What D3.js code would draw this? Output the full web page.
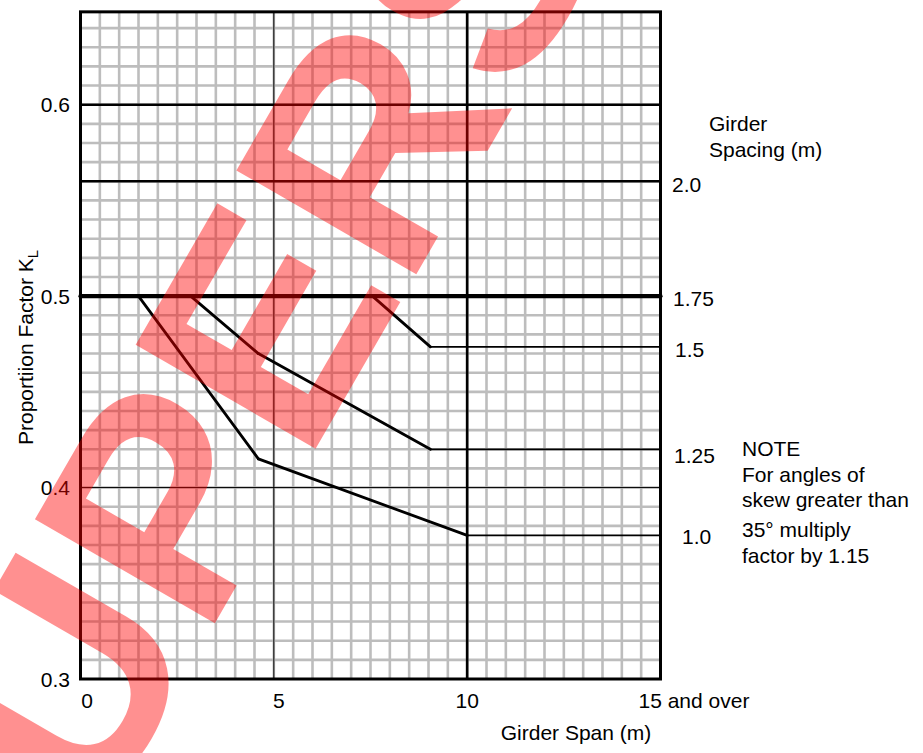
<!DOCTYPE html>
<html>
<head>
<meta charset="utf-8">
<script src="https://cdn.jsdelivr.net/npm/d3@7"></script>
<style>
	body { margin: 0; background: #fff; }
	text { font-family: 'Liberation Sans', Arial, sans-serif; fill: #000; }
</style>
</head>
<body>
<div id="chart"></div>
<script>
// values
const spacingLabels = [ '1.0', '1.25', '1.5', '1.75', '2.0' ];
const curve10 = [ [ 1.5, 0.5 ], [ 4.6, 0.415 ], [ 10, 0.375 ], [ 15, 0.375 ] ];
const curve125 = [ [ 2.85, 0.5 ], [ 4.6, 0.47 ], [ 9.05, 0.42 ], [ 15, 0.42 ] ];
const curve15 = [ [ 7.55, 0.5 ], [ 9.05, 0.4735 ], [ 15, 0.4735 ] ];
const curve175 = [ [ 0, 0.5 ], [ 15, 0.5 ] ];
const curve20 = [ [ 0, 0.56 ], [ 15, 0.56 ] ];
const curves = [ curve10, curve125, curve15, curve175, curve20 ];

const xDomain = [ 0, 15 ];
const yDomain = [ 0.3, 0.6485 ];
const xTicks = [ 0, 5, 10, 15 ];
const xTickLabels = [ '0', '5', '10', '15 and over' ];
const yTicks = [ 0.3, 0.4, 0.5, 0.6 ];
const xMajor = [ 5, 10 ];
const yMajor = [ 0.4, 0.6 ];
const noteLines = [ 'NOTE', 'For angles of', 'skew greater than', '35° multiply', 'factor by 1.15' ];

// layout
const width = 923;
const height = 753;
const fontSize = '21px';
const svg = d3.select('#chart').append('svg').attr('width', width).attr('height', height);
svg.append('rect').attr('width', width).attr('height', height).attr('fill', '#fff');

const x = d3.scaleLinear().domain(xDomain).range([ 80.5, 660.5 ]);
const y = d3.scaleLinear().domain([ 0.3, 0.6 ]).range([ 679, 104.7 ]);

// fine grid, every 0.5 m and every 0.01
const gridX = d3.range(1, 30).map((i) => i * 0.5);
const gridY = d3.range(31, 65).map((i) => i / 100).filter((v) => v < yDomain[1] - 0.001);

const grid = svg.append('g').attr('stroke', '#bdbdbd').attr('stroke-width', 2.6);
grid
	.selectAll('.gx')
	.data(gridX)
	.enter()
	.append('line')
	.attr('x1', (d) => x(d))
	.attr('x2', (d) => x(d))
	.attr('y1', y(yDomain[1]))
	.attr('y2', y(yDomain[0]));
grid
	.selectAll('.gy')
	.data(gridY)
	.enter()
	.append('line')
	.attr('x1', x(0))
	.attr('x2', x(15))
	.attr('y1', (d) => y(d))
	.attr('y2', (d) => y(d));

// black reference lines
const majorWidthX = { 5: 1, 10: 2.6 };
const majorWidthY = { 0.4: 1, 0.6: 2.6 };
svg
	.selectAll('.mx')
	.data(xMajor)
	.enter()
	.append('line')
	.attr('stroke', '#000')
	.attr('stroke-width', (d) => majorWidthX[d])
	.attr('x1', (d) => x(d))
	.attr('x2', (d) => x(d))
	.attr('y1', y(yDomain[1]))
	.attr('y2', y(yDomain[0]));
svg
	.selectAll('.my')
	.data(yMajor)
	.enter()
	.append('line')
	.attr('stroke', '#000')
	.attr('stroke-width', (d) => majorWidthY[d])
	.attr('x1', x(0))
	.attr('x2', x(15))
	.attr('y1', (d) => y(d))
	.attr('y2', (d) => y(d));

// curves, drawn segment by segment: sloped parts heavier than flat tails
curves.forEach(function(c, ci) {
	const segs = d3.pairs(c);
	svg
		.append('g')
		.selectAll('line')
		.data(segs)
		.enter()
		.append('line')
		.attr('stroke', '#000')
		.attr('stroke-linecap', 'round')
		.attr('stroke-width', function(s) {
			if (ci === 3) return 4.2;
			if (ci === 4) return 2.6;
			return s[0][1] === s[1][1] ? 1.8 : 2.8;
		})
		.attr('x1', (s) => x(s[0][0]))
		.attr('y1', (s) => y(s[0][1]))
		.attr('x2', (s) => x(s[1][0]))
		.attr('y2', (s) => y(s[1][1]));
});

// frame
svg
	.append('rect')
	.attr('x', x(0))
	.attr('y', y(yDomain[1]))
	.attr('width', x(15) - x(0))
	.attr('height', y(yDomain[0]) - y(yDomain[1]))
	.attr('fill', 'none')
	.attr('stroke', '#000')
	.attr('stroke-width', 3);

// tick labels
svg
	.selectAll('.yt')
	.data(yTicks)
	.enter()
	.append('text')
	.attr('x', 70)
	.attr('y', (d) => y(d) + 7.5)
	.attr('text-anchor', 'end')
	.style('font-size', fontSize)
	.text((d) => d3.format('.1f')(d));

const xTickNudge = [ 6.5, 5, 0, -22 ];
svg
	.selectAll('.xt')
	.data(xTicks)
	.enter()
	.append('text')
	.attr('x', (d, i) => x(d) + xTickNudge[i])
	.attr('y', 708)
	.attr('text-anchor', (d, i) => (i === xTicks.length - 1 ? 'start' : 'middle'))
	.style('font-size', fontSize)
	.text((d, i) => xTickLabels[i]);

svg
	.append('text')
	.attr('x', 576)
	.attr('y', 740)
	.attr('text-anchor', 'middle')
	.style('font-size', fontSize)
	.text('Girder Span (m)');

// y axis title with subscript
const yTitle = svg
	.append('text')
	.attr('transform', 'translate(33,445) rotate(-90)')
	.style('font-size', fontSize);
yTitle.append('tspan').text('Proportiion Factor K');
yTitle.append('tspan').attr('dy', 5).style('font-size', '15px').text('L');

// girder spacing labels at the right end of each curve
const labelNudge = [ [ 9, 9 ], [ 1, 14 ], [ 2, 10 ], [ 0, 10 ], [ -1, 11 ] ];
svg
	.selectAll('.sl')
	.data(curves)
	.enter()
	.append('text')
	.attr('x', (c, i) => 673 + labelNudge[i][0])
	.attr('y', (c, i) => y(c[c.length - 1][1]) + labelNudge[i][1])
	.style('font-size', fontSize)
	.text((c, i) => spacingLabels[i]);

svg.append('text').attr('x', 709).attr('y', 131).style('font-size', fontSize).text('Girder');
svg.append('text').attr('x', 709).attr('y', 157).style('font-size', fontSize).text('Spacing (m)');

const noteY = [ 456, 482, 507, 537, 563 ];
svg
	.selectAll('.note')
	.data(noteLines)
	.enter()
	.append('text')
	.attr('x', 742)
	.attr('y', (d, i) => noteY[i])
	.style('font-size', fontSize)
	.text((d) => d);

// watermark on top
svg
	.append('text')
	.attr('transform', 'translate(-5,1004) rotate(-60)')
	.style('font-size', '302px')
	.style('font-weight', 'bold')
	.style('fill', '#ff0000')
	.style('opacity', 0.43)
	.text('SUPERSEDED');
</script>
</body>
</html>
